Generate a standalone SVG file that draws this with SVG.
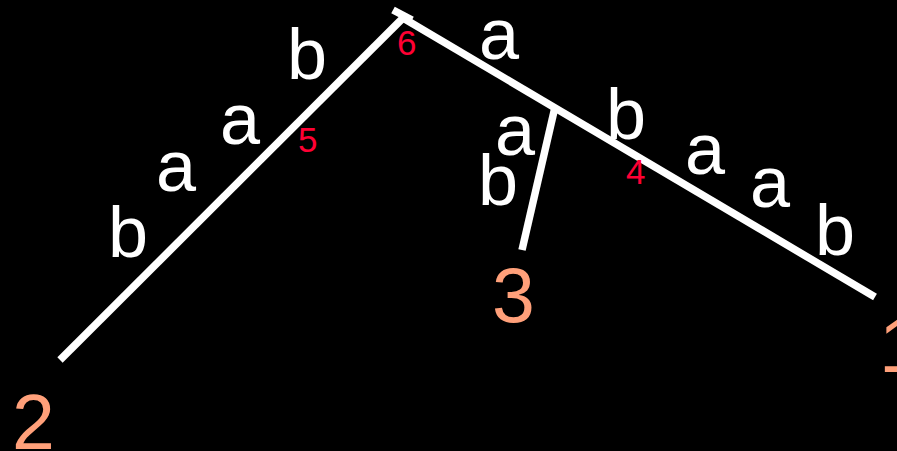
<svg xmlns="http://www.w3.org/2000/svg" width="897" height="451" viewBox="0 0 897 451">
<style>
.e{stroke:#fff;stroke-width:7.5;fill:none}
.l{fill:#fff;font-family:"Liberation Sans",Arial,sans-serif;font-size:72px}
.n{fill:#FFA07A;font-family:"Liberation Sans",Arial,sans-serif;font-size:77px}
.r{fill:#FF0033;font-family:"Liberation Sans",Arial,sans-serif;font-size:35px}
</style>
<rect width="897" height="451" fill="#000"/>
<g id="connectors">
<line class="e" x1="60" y1="360" x2="403" y2="18"/>
<line class="e" x1="403" y1="18" x2="875" y2="297"/>
<line class="e" x1="555" y1="107" x2="522" y2="250"/>
<line class="e" x1="393" y1="10" x2="412" y2="20"/>
</g>
<g id="labels">
<text class="l" x="287" y="79">b</text>
<text class="l" x="220" y="144">a</text>
<text class="l" x="156" y="191">a</text>
<text class="l" x="108" y="257">b</text>
<text class="l" x="479" y="59">a</text>
<text class="l" x="495" y="155">a</text>
<text class="l" x="478" y="205">b</text>
<text class="l" x="606" y="139">b</text>
<text class="l" x="685" y="174">a</text>
<text class="l" x="750" y="207">a</text>
<text class="l" x="815" y="255">b</text>
</g>
<g id="node1"><text class="n" x="879" y="372">1</text></g>
<g id="node2"><text class="n" x="12" y="449">2</text></g>
<g id="node3"><text class="n" x="492" y="322">3</text></g>
<g id="node4"><text class="r" x="626" y="184">4</text></g>
<g id="node5"><text class="r" x="298" y="152">5</text></g>
<g id="node6"><text class="r" x="397" y="55">6</text></g>
</svg>
